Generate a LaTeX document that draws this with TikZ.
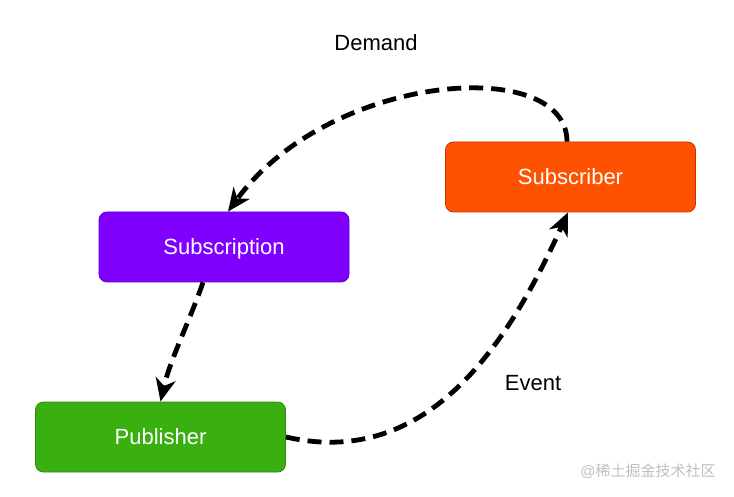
\documentclass[tikz,border=0pt]{standalone}
\usepackage{fontspec}
\setmainfont{Liberation Sans}
\newfontfamily\cjkfont{Noto Sans CJK SC}
\usetikzlibrary{arrows.meta}
\definecolor{subpurple}{HTML}{7F00FF}
\definecolor{subpurpleline}{HTML}{6600CC}
\definecolor{subred}{HTML}{FF5200}
\definecolor{subredline}{HTML}{C83200}
\definecolor{pubgreen}{HTML}{3AAF10}
\definecolor{pubgreenline}{HTML}{2D8A0B}

\begin{document}
\begin{tikzpicture}[x=1pt, y=-1pt,
  box/.style={rounded corners=8pt, minimum width=250pt, minimum height=70pt, inner sep=0pt, text=white, font=\fontsize{22}{26}\selectfont, text height=15.5pt, text depth=0pt, line width=0.8pt},
  flow/.style={line width=4.8pt, dash pattern=on 14pt off 8pt, -{Stealth[length=23pt, width=20pt, inset=7pt]}},
  lbl/.style={font=\fontsize{22}{26}\selectfont}]
\useasboundingbox (0, 0) rectangle (734, 497);
\node [box, fill=subpurple, draw=subpurpleline] (subscription) at (224, 247) {Subscription};
\node [box, fill=subred, draw=subredline] (subscriber) at (570.5, 177) {Subscriber};
\node [box, fill=pubgreen, draw=pubgreenline] (publisher) at (160.5, 437) {Publisher};
\draw [flow] ([xshift=-3.5pt]subscriber.north) .. controls (567, 55) and (330, 72) .. ([xshift=4pt]subscription.north);
\draw [flow] ([xshift=-21pt]subscription.south) .. controls (190, 320) and (170, 360) .. (publisher.north);
\draw [flow] (publisher.east) .. controls (430, 470) and (510, 340) .. ([xshift=-2.5pt]subscriber.south);
\node [lbl] (demand) at (376, 43) {Demand};
\node [lbl] (event) at (533, 383) {Event};
\node [text=black!25, font=\fontsize{15}{18}\selectfont] (mark) at (648, 471) {@\cjkfont 稀土掘金技术社区};
\end{tikzpicture}
\end{document}
